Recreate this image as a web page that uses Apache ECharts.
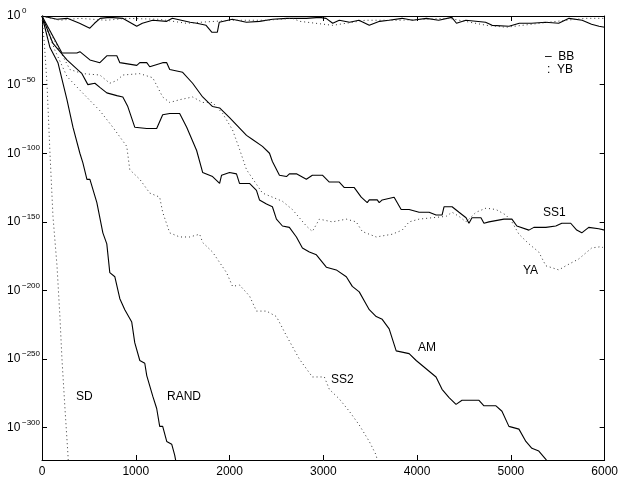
<!DOCTYPE html>
<html>
<head>
<meta charset="utf-8">
<script src="https://cdn.jsdelivr.net/npm/echarts@6/dist/echarts.min.js"></script>
<style>
  html, body { margin: 0; padding: 0; background: #fff; }
  #chart { width: 621px; height: 478px; }
</style>
</head>
<body>
<div id="chart"></div>
<script>
// x = iterations, y = log10 of the error (exponent)
const xTicks = [0, 1000, 2000, 3000, 4000, 5000, 6000]
const yTicks = [0, -50, -100, -150, -200, -250, -300]

const bbTop = [[0, 0], [160, -2.4], [270, -1.7], [400, -5.3], [510, -8.9], [560, -5.3], [620, -1.7], [720, -1.0], [860, -1.7],
  [1010, -7.5], [1070, -5.3], [1180, -3.1], [1330, -3.9], [1390, -1.7], [1580, -4.6], [1650, -5.3], [1750, -6.8],
  [1810, -11.8], [1870, -11.8], [1890, -4.6], [2030, -2.4], [2180, -4.6], [2320, -3.9], [2460, -2.4], [2610, -1.7],
  [2820, -1.7], [2960, -1.0], [3030, -1.7], [3100, -5.3], [3170, -3.1], [3280, -4.6], [3380, -3.1], [3490, -6.8],
  [3600, -3.9], [3700, -3.1], [3840, -1.7], [3950, -3.1], [4100, -1.7], [4230, -3.1], [4370, -1.0], [4420, -5.3],
  [4520, -3.1], [4730, -4.6], [4800, -6.8], [4980, -7.5], [5090, -5.3], [5220, -5.3], [5370, -4.6], [5510, -5.3],
  [5620, -1.7], [5760, -3.1], [5860, -6.0], [5940, -7.5], [6000, -8.2]]
const ybTop = [[0, 0], [190, -3.1], [400, -1.7], [690, -3.1], [900, -1.7], [1250, -2.4], [1540, -5.3], [1680, -4.6],
  [2030, -3.1], [2390, -3.1], [2670, -1.7], [2750, -3.9], [3100, -6.8], [3450, -3.1], [3810, -3.1], [4340, -1.7],
  [4740, -6.8], [4950, -8.2], [5220, -6.0], [5590, -3.1], [5800, -1.7], [6000, -1.7]]
const sd = [[0, 0], [25, -20], [53, -49], [85, -100], [117, -146], [160, -182], [191, -219], [213, -250],
  [245, -286], [277, -320], [280, -324]]
const rand = [[0, 0], [85, -23], [170, -34], [266, -61], [330, -81], [404, -100], [436, -107], [479, -119],
  [511, -119], [585, -136], [649, -158], [691, -166], [723, -187], [777, -190], [830, -206], [883, -214],
  [957, -223], [989, -238], [1043, -251], [1096, -253], [1117, -262], [1181, -277], [1223, -286], [1255, -299],
  [1287, -299], [1330, -310], [1383, -312], [1415, -320], [1426, -324]]
const ss2 = [[0, 0], [138, -25], [266, -44], [404, -54], [617, -69], [755, -81], [904, -95], [936, -112],
  [1043, -119], [1149, -129], [1255, -132], [1287, -143], [1362, -158], [1468, -161], [1575, -161], [1681, -159],
  [1713, -165], [1819, -172], [1968, -187], [2032, -197], [2106, -196], [2213, -204], [2287, -215], [2394, -215],
  [2500, -219], [2607, -233], [2745, -250], [2883, -263], [3011, -263], [3064, -272], [3170, -279], [3277, -288],
  [3383, -298], [3490, -310], [3564, -320], [3575, -324]]
const am = [[0, 0], [117, -20], [266, -32], [426, -42], [489, -50], [564, -49], [617, -52], [691, -56], [798, -58],
  [862, -59], [915, -66], [989, -81], [1117, -82], [1223, -82], [1287, -72], [1362, -71], [1468, -71], [1543, -81],
  [1649, -98], [1713, -114], [1819, -117], [1894, -122], [1915, -116], [2000, -114], [2074, -115], [2106, -122],
  [2213, -122], [2287, -127], [2319, -134], [2394, -137], [2457, -139], [2500, -148], [2564, -153], [2638, -154],
  [2713, -161], [2777, -169], [2851, -172], [2926, -174], [3032, -183], [3138, -185], [3245, -190], [3309, -197],
  [3383, -201], [3457, -210], [3490, -214], [3564, -219], [3628, -221], [3702, -228], [3777, -244], [3915, -246],
  [3990, -251], [4096, -257], [4202, -263], [4266, -272], [4341, -278], [4415, -283], [4479, -280], [4660, -280],
  [4713, -284], [4841, -284], [4905, -288], [4979, -299], [5086, -301], [5160, -310], [5224, -315], [5298, -317],
  [5373, -323], [5383, -324]]
const ss1 = [[0, 0], [213, -27], [372, -27], [404, -26], [511, -32], [617, -34], [691, -29], [798, -29], [830, -34],
  [1011, -36], [1043, -34], [1117, -34], [1149, -37], [1287, -34], [1330, -34], [1362, -39], [1500, -41], [1606, -49],
  [1713, -59], [1819, -66], [1894, -67], [2000, -74], [2181, -87], [2245, -90], [2351, -95], [2426, -100], [2457, -106],
  [2532, -116], [2607, -117], [2638, -115], [2713, -115], [2819, -119], [2883, -116], [2990, -116], [3064, -121],
  [3170, -121], [3224, -125], [3330, -125], [3404, -132], [3468, -136], [3490, -134], [3575, -134], [3596, -136],
  [3628, -134], [3755, -132], [3830, -141], [3915, -141], [4021, -143], [4128, -143], [4202, -145], [4266, -145],
  [4287, -139], [4373, -139], [4447, -143], [4522, -147], [4553, -151], [4585, -147], [4681, -147], [4713, -151],
  [4766, -150], [4926, -148], [5011, -148], [5064, -153], [5192, -156], [5245, -154], [5373, -154], [5479, -153],
  [5543, -151], [5638, -151], [5702, -156], [5756, -158], [5830, -154], [5937, -155], [6000, -156]]
const ya = [[0, 0], [32, -5], [298, -39], [436, -42], [617, -43], [723, -49], [798, -47], [862, -43], [1043, -42],
  [1181, -45], [1287, -59], [1362, -63], [1468, -61], [1606, -59], [1713, -63], [1819, -63], [1926, -71], [2032, -83],
  [2106, -97], [2181, -112], [2351, -129], [2564, -135], [2670, -141], [2819, -153], [2883, -157], [2958, -148],
  [3096, -150], [3245, -148], [3351, -150], [3415, -157], [3564, -161], [3734, -159], [3841, -156], [3915, -150],
  [4021, -148], [4160, -147], [4309, -146], [4373, -143], [4447, -146], [4522, -150], [4628, -143], [4735, -140],
  [4841, -141], [4947, -145], [5011, -150], [5086, -159], [5192, -166], [5298, -172], [5373, -182], [5511, -185],
  [5586, -182], [5724, -177], [5862, -169], [5968, -168], [6000, -170]]

const solidNames = ['BB top', 'RAND', 'AM', 'SS1']
const curves = {
  'BB top': bbTop, 'YB top': ybTop, 'SD': sd, 'RAND': rand,
  'SS2': ss2, 'AM': am, 'SS1': ss1, 'YA': ya
}

const FONT = 'Liberation Sans, Arial, Helvetica, sans-serif'
const chart = echarts.init(document.getElementById('chart'), null, { renderer: 'canvas' })

let series = Object.keys(curves).map(name => {
  let solid = solidNames.indexOf(name) >= 0
  return {
    name: name,
    type: 'line',
    data: curves[name],
    showSymbol: false,
    silent: true,
    clip: true,
    lineStyle: solid
      ? { color: '#000', width: 1.1, type: 'solid' }
      : { color: '#333', width: 1, type: [1, 3] }
  }
})

const axisLineStyle = { onZero: false, lineStyle: { color: '#000', width: 1 } }
const tickStyle = { inside: true, length: 5, lineStyle: { color: '#000', width: 1 } }
const yBase = { type: 'value', min: -323.5, max: 0, splitLine: { show: false } }

let option = {
  animation: false,
  backgroundColor: '#fff',
  grid: { left: 42, right: 15, top: 16, bottom: 16, containLabel: false },
  xAxis: [{
    type: 'value', min: 0, max: 6000, interval: 1000,
    axisLine: axisLineStyle,
    axisTick: tickStyle,
    splitLine: { show: false },
    axisLabel: { color: '#000', fontSize: 12, fontFamily: FONT, margin: 6,
      formatter: v => xTicks.indexOf(v) >= 0 ? String(v) : '' }
  }, {
    type: 'value', min: 0, max: 6000, interval: 1000, position: 'top',
    axisLine: axisLineStyle,
    axisTick: tickStyle,
    splitLine: { show: false },
    axisLabel: { show: false }
  }],
  yAxis: [Object.assign({}, yBase, {
    // base "10" of each label, plus the left frame with ticks
    position: 'left',
    axisLine: axisLineStyle,
    axisTick: Object.assign({ customValues: yTicks }, tickStyle),
    axisLabel: {
      customValues: yTicks, align: 'left', margin: 35,
      color: '#000', fontSize: 12, fontFamily: FONT,
      formatter: () => '10'
    }
  }), Object.assign({}, yBase, {
    position: 'right',
    axisLine: axisLineStyle,
    axisTick: Object.assign({ customValues: yTicks }, tickStyle),
    axisLabel: { show: false }
  }), Object.assign({}, yBase, {
    // exponent of each label, raised as a superscript
    position: 'left',
    axisLine: { show: false, onZero: false },
    axisTick: { show: false },
    axisLabel: {
      customValues: yTicks, align: 'left', margin: 20, verticalAlign: 'bottom',
      color: '#000', fontSize: 8, fontFamily: FONT, lineHeight: 8, padding: [0, 0, 1, 0],
      formatter: v => Math.round(v) === 0 ? '0' : '\u2212' + Math.abs(Math.round(v))
    }
  })],
  series: series,
  graphic: [
    { type: 'text', left: 76, top: 391, style: { text: 'SD', fontSize: 12, fontFamily: FONT, fill: '#000' } },
    { type: 'text', left: 167, top: 391, style: { text: 'RAND', fontSize: 12, fontFamily: FONT, fill: '#000' } },
    { type: 'text', left: 331, top: 374, style: { text: 'SS2', fontSize: 12, fontFamily: FONT, fill: '#000' } },
    { type: 'text', left: 418, top: 342, style: { text: 'AM', fontSize: 12, fontFamily: FONT, fill: '#000' } },
    { type: 'text', left: 523, top: 265, style: { text: 'YA', fontSize: 12, fontFamily: FONT, fill: '#000' } },
    { type: 'text', left: 543, top: 207, style: { text: 'SS1', fontSize: 12, fontFamily: FONT, fill: '#000' } },
    { type: 'text', left: 545, top: 51, style: { text: '\u2013  BB', fontSize: 12, fontFamily: FONT, fill: '#000' } },
    { type: 'text', left: 547, top: 64, style: { text: ':  YB', fontSize: 12, fontFamily: FONT, fill: '#000' } }
  ]
}
chart.setOption(option)
</script>
</body>
</html>
